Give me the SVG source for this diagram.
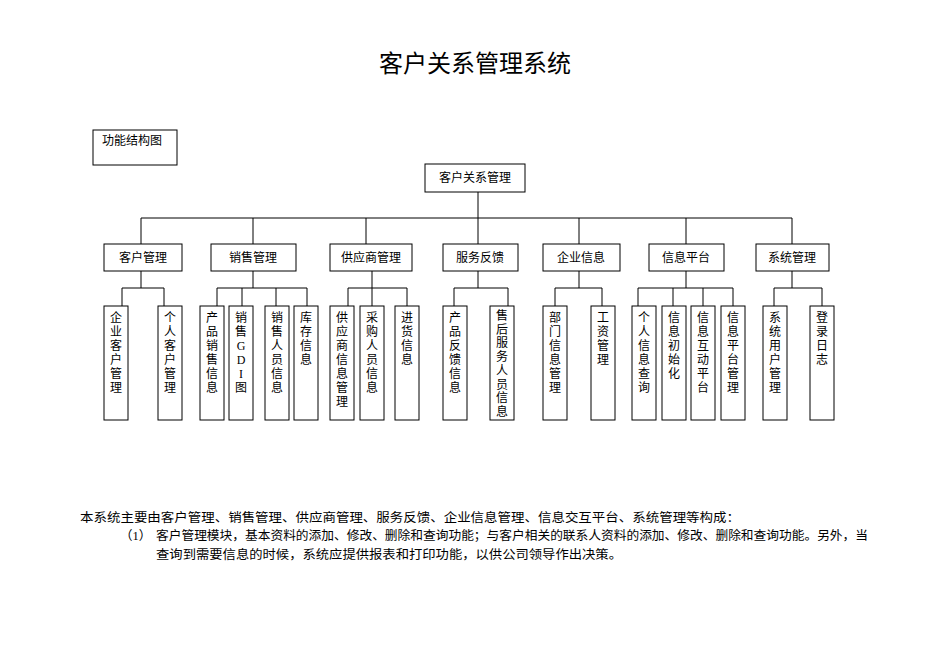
<svg xmlns="http://www.w3.org/2000/svg" width="950" height="672" viewBox="0 0 950 672">
<style>
text{font-family:"Liberation Serif","Noto Sans CJK SC",serif;fill:#000}
.b{fill:#fff;stroke:#000;stroke-width:1}
.l{font-size:12px;text-anchor:middle}
.v{font-size:12px;text-anchor:middle}
.c{fill:none;stroke:#000;stroke-width:1}
</style>
<rect width="950" height="672" fill="#fff"/>
<text x="475" y="72" font-size="24" text-anchor="middle">客户关系管理系统</text>
<g id="label"><rect class="b" x="93" y="130" width="84" height="35"/><text x="102" y="145" font-size="12">功能结构图</text></g>
<g id="connectors" class="c">
<path d="M478 192V218M141 218H792M141 218V244M253 218V244M366 218V244M478 218V244M579 218V244M686 218V244M792 218V244"/>
<path d="M141 271V288M122 288H164M122 288V306M164 288V306"/>
<path d="M253 271V288M217 288H307M217 288V306M242 288V306M276 288V306M307 288V306"/>
<path d="M372 271V306M348 288H407M348 288V306M407 288V306"/>
<path d="M478 271V288M454 288H508M454 288V306M508 288V306"/>
<path d="M579 271V288M555 288H602M555 288V306M602 288V306"/>
<path d="M686 271V288M638 288H733M638 288V306M673 288V306M703 288V306M733 288V306"/>
<path d="M792 271V288M774 288H822M774 288V306M822 288V306"/>
</g>
<g id="root"><rect class="b" x="425" y="164" width="100" height="28"/><text class="l" x="475" y="182">客户关系管理</text></g>
<g id="m1"><rect class="b" x="104" y="244" width="78" height="27"/><text class="l" x="143" y="262">客户管理</text></g>
<g id="m2"><rect class="b" x="211" y="244" width="85" height="27"/><text class="l" x="253" y="262">销售管理</text></g>
<g id="m3"><rect class="b" x="330" y="244" width="82" height="27"/><text class="l" x="371" y="262">供应商管理</text></g>
<g id="m4"><rect class="b" x="443" y="244" width="75" height="27"/><text class="l" x="480" y="262">服务反馈</text></g>
<g id="m5"><rect class="b" x="543" y="244" width="77" height="27"/><text class="l" x="581" y="262">企业信息</text></g>
<g id="m6"><rect class="b" x="649" y="244" width="75" height="27"/><text class="l" x="686" y="262">信息平台</text></g>
<g id="m7"><rect class="b" x="756" y="244" width="73" height="27"/><text class="l" x="792" y="262">系统管理</text></g>
<g id="leaf1"><rect class="b" x="104" y="306" width="24" height="114"/><text class="v" x="116" y="322"><tspan x="116">企</tspan><tspan x="116" dy="14">业</tspan><tspan x="116" dy="14">客</tspan><tspan x="116" dy="14">户</tspan><tspan x="116" dy="14">管</tspan><tspan x="116" dy="14">理</tspan></text></g>
<g id="leaf2"><rect class="b" x="158" y="306" width="24" height="114" stroke-width="1.5"/><text class="v" x="170" y="322"><tspan x="170">个</tspan><tspan x="170" dy="14">人</tspan><tspan x="170" dy="14">客</tspan><tspan x="170" dy="14">户</tspan><tspan x="170" dy="14">管</tspan><tspan x="170" dy="14">理</tspan></text></g>
<g id="leaf3"><rect class="b" x="200" y="306" width="24" height="114"/><text class="v" x="212" y="322"><tspan x="212">产</tspan><tspan x="212" dy="14">品</tspan><tspan x="212" dy="14">销</tspan><tspan x="212" dy="14">售</tspan><tspan x="212" dy="14">信</tspan><tspan x="212" dy="14">息</tspan></text></g>
<g id="leaf4"><rect class="b" x="229" y="306" width="24" height="114"/><text class="v" x="241" y="322"><tspan x="241">销</tspan><tspan x="241" dy="14">售</tspan><tspan x="241" dy="14">G</tspan><tspan x="241" dy="14">D</tspan><tspan x="241" dy="14">I</tspan><tspan x="241" dy="14">图</tspan></text></g>
<g id="leaf5"><rect class="b" x="265" y="306" width="24" height="114"/><text class="v" x="277" y="322"><tspan x="277">销</tspan><tspan x="277" dy="14">售</tspan><tspan x="277" dy="14">人</tspan><tspan x="277" dy="14">员</tspan><tspan x="277" dy="14">信</tspan><tspan x="277" dy="14">息</tspan></text></g>
<g id="leaf6"><rect class="b" x="294" y="306" width="24" height="114"/><text class="v" x="306" y="322"><tspan x="306">库</tspan><tspan x="306" dy="14">存</tspan><tspan x="306" dy="14">信</tspan><tspan x="306" dy="14">息</tspan></text></g>
<g id="leaf7"><rect class="b" x="330" y="306" width="24" height="114"/><text class="v" x="342" y="322"><tspan x="342">供</tspan><tspan x="342" dy="14">应</tspan><tspan x="342" dy="14">商</tspan><tspan x="342" dy="14">信</tspan><tspan x="342" dy="14">息</tspan><tspan x="342" dy="14">管</tspan><tspan x="342" dy="14">理</tspan></text></g>
<g id="leaf8"><rect class="b" x="360" y="306" width="24" height="114"/><text class="v" x="372" y="322"><tspan x="372">采</tspan><tspan x="372" dy="14">购</tspan><tspan x="372" dy="14">人</tspan><tspan x="372" dy="14">员</tspan><tspan x="372" dy="14">信</tspan><tspan x="372" dy="14">息</tspan></text></g>
<g id="leaf9"><rect class="b" x="395" y="306" width="24" height="114"/><text class="v" x="407" y="322"><tspan x="407">进</tspan><tspan x="407" dy="14">货</tspan><tspan x="407" dy="14">信</tspan><tspan x="407" dy="14">息</tspan></text></g>
<g id="leaf10"><rect class="b" x="443" y="306" width="24" height="114"/><text class="v" x="455" y="322"><tspan x="455">产</tspan><tspan x="455" dy="14">品</tspan><tspan x="455" dy="14">反</tspan><tspan x="455" dy="14">馈</tspan><tspan x="455" dy="14">信</tspan><tspan x="455" dy="14">息</tspan></text></g>
<g id="leaf11"><rect class="b" x="490" y="306" width="24" height="114"/><text class="v" x="502" y="320"><tspan x="502">售</tspan><tspan x="502" dy="13.7">后</tspan><tspan x="502" dy="13.7">服</tspan><tspan x="502" dy="13.7">务</tspan><tspan x="502" dy="13.7">人</tspan><tspan x="502" dy="13.7">员</tspan><tspan x="502" dy="13.7">信</tspan><tspan x="502" dy="13.7">息</tspan></text></g>
<g id="leaf12"><rect class="b" x="543" y="306" width="24" height="114"/><text class="v" x="555" y="322"><tspan x="555">部</tspan><tspan x="555" dy="14">门</tspan><tspan x="555" dy="14">信</tspan><tspan x="555" dy="14">息</tspan><tspan x="555" dy="14">管</tspan><tspan x="555" dy="14">理</tspan></text></g>
<g id="leaf13"><rect class="b" x="591" y="306" width="24" height="114"/><text class="v" x="603" y="322"><tspan x="603">工</tspan><tspan x="603" dy="14">资</tspan><tspan x="603" dy="14">管</tspan><tspan x="603" dy="14">理</tspan></text></g>
<g id="leaf14"><rect class="b" x="632" y="306" width="24" height="114"/><text class="v" x="644" y="322"><tspan x="644">个</tspan><tspan x="644" dy="14">人</tspan><tspan x="644" dy="14">信</tspan><tspan x="644" dy="14">息</tspan><tspan x="644" dy="14">查</tspan><tspan x="644" dy="14">询</tspan></text></g>
<g id="leaf15"><rect class="b" x="662" y="306" width="24" height="114"/><text class="v" x="674" y="322"><tspan x="674">信</tspan><tspan x="674" dy="14">息</tspan><tspan x="674" dy="14">初</tspan><tspan x="674" dy="14">始</tspan><tspan x="674" dy="14">化</tspan></text></g>
<g id="leaf16"><rect class="b" x="691" y="306" width="24" height="114"/><text class="v" x="703" y="322"><tspan x="703">信</tspan><tspan x="703" dy="14">息</tspan><tspan x="703" dy="14">互</tspan><tspan x="703" dy="14">动</tspan><tspan x="703" dy="14">平</tspan><tspan x="703" dy="14">台</tspan></text></g>
<g id="leaf17"><rect class="b" x="721" y="306" width="24" height="114"/><text class="v" x="733" y="322"><tspan x="733">信</tspan><tspan x="733" dy="14">息</tspan><tspan x="733" dy="14">平</tspan><tspan x="733" dy="14">台</tspan><tspan x="733" dy="14">管</tspan><tspan x="733" dy="14">理</tspan></text></g>
<g id="leaf18"><rect class="b" x="763" y="306" width="24" height="114"/><text class="v" x="775" y="322"><tspan x="775">系</tspan><tspan x="775" dy="14">统</tspan><tspan x="775" dy="14">用</tspan><tspan x="775" dy="14">户</tspan><tspan x="775" dy="14">管</tspan><tspan x="775" dy="14">理</tspan></text></g>
<g id="leaf19"><rect class="b" x="810" y="306" width="24" height="114"/><text class="v" x="822" y="322"><tspan x="822">登</tspan><tspan x="822" dy="14">录</tspan><tspan x="822" dy="14">日</tspan><tspan x="822" dy="14">志</tspan></text></g>
<g id="body" font-size="12.5">
<text x="80" y="522" textLength="660" lengthAdjust="spacingAndGlyphs">本系统主要由客户管理、销售管理、供应商管理、服务反馈、企业信息管理、信息交互平台、系统管理等构成：</text>
<text x="120" y="540">（1）</text>
<text x="156" y="540" textLength="712" lengthAdjust="spacingAndGlyphs">客户管理模块，基本资料的添加、修改、删除和查询功能；与客户相关的联系人资料的添加、修改、删除和查询功能。另外，当</text>
<text x="156" y="559" textLength="466" lengthAdjust="spacingAndGlyphs">查询到需要信息的时候，系统应提供报表和打印功能，以供公司领导作出决策。</text>
</g>
</svg>
